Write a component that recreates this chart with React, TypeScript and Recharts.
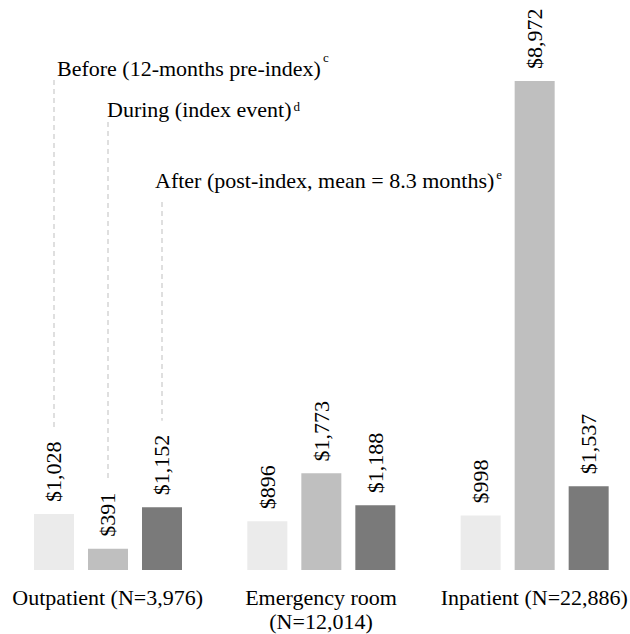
// Mean costs per patient before / during / after the index event, by setting of care
import * as React from 'react';
import { BarChart, Bar, XAxis, YAxis, LabelList } from 'recharts';

const CATEGORIES = [
  'Outpatient (N=3,976)',
  'Emergency room (N=12,014)',
  'Inpatient (N=22,886)',
];
const BEFORE = [1028, 896, 998];
const DURING = [391, 1773, 8972];
const AFTER = [1152, 1188, 1537];

const SERIES_KEYS = ['before', 'during', 'after'];
const SERIES_NAMES = [
  'Before (12-months pre-index)',
  'During (index event)',
  'After (post-index, mean = 8.3 months)',
];
const FOOTNOTES = ['c', 'd', 'e'];

const COLORS = ['#ebebeb', '#bfbfbf', '#7a7a7a'];
const FONT = "'Liberation Serif', 'Times New Roman', Times, serif";
const FONT_SIZE = 22;
const TEXT_STYLE = { fontFamily: FONT, fontSize: FONT_SIZE };

// where each series name sits above the first group, and where its leader starts
const NAME_POS = [
  { dx: 3, y: 76, lineTop: 80, supDy: -14 },
  { dx: -1, y: 117, lineTop: 122, supDy: -6 },
  { dx: -7, y: 188, lineTop: 202, supDy: -9 },
];

const data = CATEGORIES.map((name, i) => ({
  name,
  before: BEFORE[i],
  during: DURING[i],
  after: AFTER[i],
}));

const fmt = (v: number) => '$' + v.toLocaleString('en-US');

// rough text length of a value label in Times
const textLen = (s: string) =>
  s.split('').reduce((acc, ch) => acc + (ch === ',' ? 0.25 : 0.5), 0) * FONT_SIZE;

let ctx: CanvasRenderingContext2D | null = null;
function measure(s: string) {
  if (!ctx) {
    ctx = document.createElement('canvas').getContext('2d');
  }
  if (!ctx) return s.length * FONT_SIZE * 0.45;
  ctx.font = `${FONT_SIZE}px ${FONT}`;
  return ctx.measureText(s).width;
}

// greedy word wrap
function wrap(s: string, maxWidth: number) {
  const lines: string[] = [];
  let cur = '';
  s.split(' ').forEach((w) => {
    const next = cur ? cur + ' ' + w : w;
    if (cur && measure(next) > maxWidth) {
      lines.push(cur);
      cur = w;
    } else {
      cur = next;
    }
  });
  if (cur) lines.push(cur);
  return lines;
}

function makeLabel(series: number) {
  return (props: any) => {
    const { x, y, width, value, index } = props;
    const cx = Number(x) + Number(width) / 2;
    const ty = Number(y) - 12;
    const s = fmt(Number(value));
    const pos = NAME_POS[series];
    return (
      <g>
        <text
          x={cx}
          y={ty}
          transform={`rotate(-90 ${cx} ${ty})`}
          textAnchor="start"
          dominantBaseline="central"
          style={TEXT_STYLE}
          fill="#000"
        >
          {s}
        </text>
        {index === 0 && (
          <g>
            <line
              x1={cx}
              x2={cx}
              y1={pos.lineTop}
              y2={ty - textLen(s) - 14}
              stroke="#bfbfbf"
              strokeDasharray="5 4"
              strokeWidth={1}
            />
            <text x={cx + pos.dx} y={pos.y} style={TEXT_STYLE} fill="#000">
              {SERIES_NAMES[series]}
              <tspan style={{ fontSize: 13 }} dy={pos.supDy} dx={2}>
                {FOOTNOTES[series]}
              </tspan>
            </text>
          </g>
        )}
      </g>
    );
  };
}

function CategoryTick(props: any) {
  const { x, y, payload } = props;
  const lines = wrap(String(payload.value), 205);
  return (
    <text x={x} y={Number(y) + 35} textAnchor="middle" style={TEXT_STYLE} fill="#000">
      {lines.map((l, i) => (
        <tspan key={i} x={x} dy={i === 0 ? 0 : 24}>
          {l}
        </tspan>
      ))}
    </text>
  );
}

export default function App() {
  return (
    <div
      style={{
        position: 'fixed',
        left: 0,
        top: 0,
        width: 630,
        height: 634,
        overflow: 'hidden',
        background: '#fff',
      }}
    >
      <BarChart
        width={642}
        height={634}
        data={data}
        margin={{ top: 25, right: 1, left: 1, bottom: 0 }}
        barGap={14}
        barSize={40}
      >
        <XAxis
          dataKey="name"
          axisLine={false}
          tickLine={false}
          tickSize={0}
          tickMargin={0}
          height={64}
          interval={0}
          tick={<CategoryTick />}
        />
        <YAxis hide domain={[0, 10000]} />
        {SERIES_KEYS.map((key, i) => (
          <Bar key={key} dataKey={key} fill={COLORS[i]} isAnimationActive={false}>
            <LabelList dataKey={key} content={makeLabel(i)} />
          </Bar>
        ))}
      </BarChart>
    </div>
  );
}
